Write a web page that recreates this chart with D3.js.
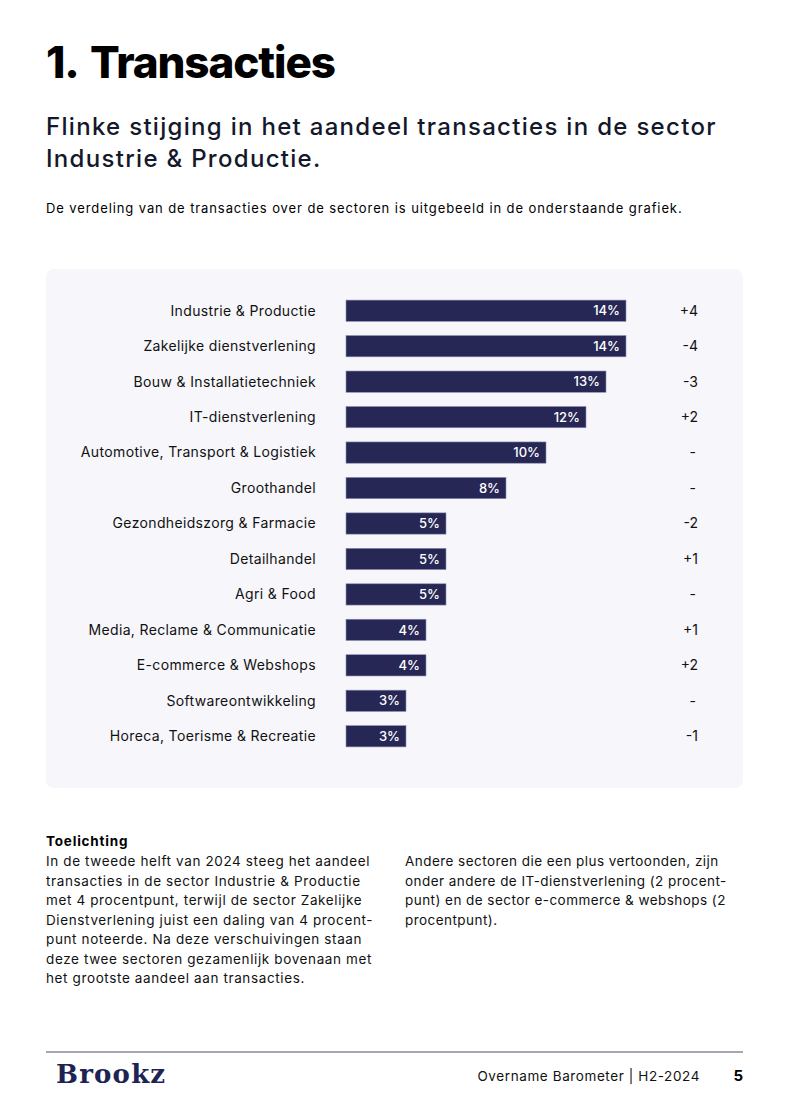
<!DOCTYPE html>
<html>
<head>
<meta charset="utf-8">
<script src="https://cdn.jsdelivr.net/npm/d3@7"></script>
<style>
  body { margin: 0; background: #fff; }
  svg { display: block; font-family: Inter, "Noto Sans", sans-serif; }
</style>
</head>
<body>
<svg id="page"></svg>
<script>
const sectors = [
  "Industrie & Productie",
  "Zakelijke dienstverlening",
  "Bouw & Installatietechniek",
  "IT-dienstverlening",
  "Automotive, Transport & Logistiek",
  "Groothandel",
  "Gezondheidszorg & Farmacie",
  "Detailhandel",
  "Agri & Food",
  "Media, Reclame & Communicatie",
  "E-commerce & Webshops",
  "Softwareontwikkeling",
  "Horeca, Toerisme & Recreatie"
];
const shares = [14, 14, 13, 12, 10, 8, 5, 5, 5, 4, 4, 3, 3];
const changes = ["+4", "-4", "-3", "+2", "-", "-", "-2", "+1", "-", "+1", "+2", "-", "-1"];

const leftText = [
  "In de tweede helft van 2024 steeg het aandeel",
  "transacties in de sector Industrie & Productie",
  "met 4 procentpunt, terwijl de sector Zakelijke",
  "Dienstverlening juist een daling van 4 procent-",
  "punt noteerde. Na deze verschuivingen staan",
  "deze twee sectoren gezamenlijk bovenaan met",
  "het grootste aandeel aan transacties."
];
const rightText = [
  "Andere sectoren die een plus vertoonden, zijn",
  "onder andere de IT-dienstverlening (2 procent-",
  "punt) en de sector e-commerce & webshops (2",
  "procentpunt)."
];

const W = 788, H = 1117;
const ink = "#14182b";
const navy = "#262755";

const svg = d3.select("#page").attr("width", W).attr("height", H);

// Heading block
const title = svg.append("text").attr("y", 78)
   .attr("font-size", 44).attr("font-weight", 800).attr("fill", "#000")
   .attr("letter-spacing", -1.1);
title.append("tspan").attr("x", 46).text("1.");
title.append("tspan").attr("x", 90).text("Transacties");

svg.append("text").attr("x", 46).attr("y", 135)
   .attr("font-size", 24).attr("font-weight", 500).attr("fill", ink)
   .attr("letter-spacing", 1.3)
   .selectAll("tspan")
   .data(["Flinke stijging in het aandeel transacties in de sector", "Industrie & Productie."])
   .join("tspan").attr("x", 46).attr("dy", (d, i) => i ? 32 : 0).text(d => d);

svg.append("text").attr("x", 46).attr("y", 213)
   .attr("font-size", 13).attr("fill", "#000").attr("letter-spacing", 0.9)
   .text("De verdeling van de transacties over de sectoren is uitgebeeld in de onderstaande grafiek.");

// Chart panel
svg.append("rect").attr("x", 46).attr("y", 269).attr("width", 697).attr("height", 519)
   .attr("rx", 8).attr("fill", "#f6f6fb");

const x = d3.scaleLinear().domain([0, 14]).range([346, 626]);
const y = d3.scaleBand().domain(sectors).range([293, 754]).paddingInner(0.4).paddingOuter(0.2);

const chart = svg.append("g");

chart.selectAll(".label")
  .data(sectors)
  .join("text")
  .attr("class", "label")
  .attr("x", 316)
  .attr("y", d => y(d) + y.bandwidth() / 2)
  .attr("dy", "0.35em")
  .attr("text-anchor", "end")
  .attr("font-size", 14)
  .attr("letter-spacing", 0.35)
  .attr("fill", "#111")
  .text(d => d);

chart.selectAll(".bar")
  .data(sectors)
  .join("rect")
  .attr("class", "bar")
  .attr("x", x(0))
  .attr("y", d => y(d))
  .attr("width", (d, i) => x(shares[i]) - x(0))
  .attr("height", y.bandwidth())
  .attr("fill", navy)
  .attr("stroke", "#8e8fb0")
  .attr("stroke-width", 0.6);

chart.selectAll(".val")
  .data(sectors)
  .join("text")
  .attr("class", "val")
  .attr("x", (d, i) => x(shares[i]) - 6)
  .attr("y", d => y(d) + y.bandwidth() / 2)
  .attr("dy", "0.36em")
  .attr("text-anchor", "end")
  .attr("font-size", 13)
  .attr("font-weight", 500)
  .attr("fill", "#fff")
  .text((d, i) => shares[i] + "%");

chart.selectAll(".chg")
  .data(sectors)
  .join("text")
  .attr("class", "chg")
  .attr("x", (d, i) => changes[i] === "-" ? 696 : 698)
  .attr("y", d => y(d) + y.bandwidth() / 2)
  .attr("dy", "0.35em")
  .attr("text-anchor", "end")
  .attr("font-size", 14)
  .attr("fill", "#111")
  .text((d, i) => changes[i]);

// Toelichting
svg.append("text").attr("x", 46).attr("y", 846)
   .attr("font-size", 13.5).attr("font-weight", 700).attr("fill", "#000")
   .attr("letter-spacing", 0.8)
   .text("Toelichting");

function para(lines, x0, ls) {
  svg.append("text").attr("x", x0).attr("y", 866)
     .attr("font-size", 13.5).attr("fill", "#111").attr("letter-spacing", ls)
     .selectAll("tspan").data(lines).join("tspan")
     .attr("x", x0).attr("dy", (d, i) => i ? 19.5 : 0).text(d => d);
}
para(leftText, 46, 0.62);
para(rightText, 405, 0.45);

// Footer
svg.append("line").attr("x1", 46).attr("x2", 743).attr("y1", 1052).attr("y2", 1052)
   .attr("stroke", "#4a4e63").attr("stroke-width", 1);

svg.append("text").attr("x", 56).attr("y", 1083)
   .attr("font-family", "'DejaVu Serif', serif").attr("font-weight", 700)
   .attr("font-size", 26).attr("fill", "#1d2453").attr("letter-spacing", 1.2)
   .text("Brookz");

svg.append("text").attr("x", 700).attr("y", 1081)
   .attr("text-anchor", "end").attr("font-size", 13.5).attr("fill", "#111")
   .attr("letter-spacing", 0.6)
   .text("Overname Barometer | H2-2024");

svg.append("text").attr("x", 743).attr("y", 1081)
   .attr("text-anchor", "end").attr("font-size", 15).attr("font-weight", 700).attr("fill", "#000")
   .text("5");
</script>
</body>
</html>
